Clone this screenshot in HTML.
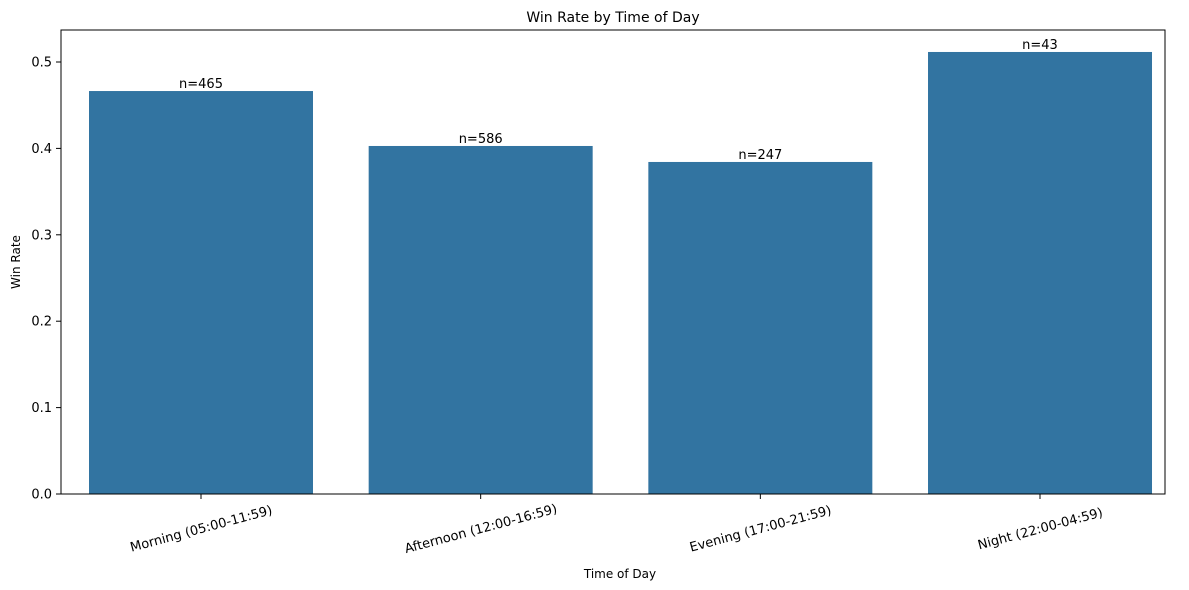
<!DOCTYPE html>
<html><head><meta charset="utf-8"><style>body{margin:0;background:#fff}svg{display:block}text{font-family:"DejaVu Sans","Liberation Sans",sans-serif;fill:#000}</style></head>
<body>
<svg id="chart" width="1189" height="590" viewBox="0 0 1189 590">
<text x="613" y="22" font-size="14" text-anchor="middle">Win Rate by Time of Day</text>
<text x="0" y="0" font-size="12" text-anchor="middle" transform="translate(20,262) rotate(-90)">Win Rate</text>
<text x="620" y="578" font-size="12" text-anchor="middle">Time of Day</text>
<g id="bars"></g><g id="yticks"></g><g id="xticks"></g>
<rect x="61" y="30" width="1104" height="464" fill="none" stroke="#000" stroke-width="1"/>
</svg>
<script>
const categories=["Morning (05:00-11:59)","Afternoon (12:00-16:59)","Evening (17:00-21:59)","Night (22:00-04:59)"];
const winRates=[0.4664,0.4028,0.3843,0.5116];
const counts=[465,586,247,43];
const yTicks=[0,0.1,0.2,0.3,0.4,0.5];
const yTickLabels=["0.0","0.1","0.2","0.3","0.4","0.5"];
const NS="http://www.w3.org/2000/svg";
function y(v){return 494-v*864;}
function x(i){return 201+i*279.67;}
const bw=224;
function mk(t,a,p){const e=document.createElementNS(NS,t);for(const k in a)e.setAttribute(k,a[k]);p.appendChild(e);return e;}
const gb=document.getElementById('bars'),gy=document.getElementById('yticks'),gx=document.getElementById('xticks');
categories.forEach((c,i)=>{
 const r=mk('rect',{x:x(i)-bw/2,y:y(winRates[i]),width:bw,height:494-y(winRates[i]),fill:'#3274a1'},gb);
 
 
 const t=mk('text',{x:x(i),y:y(winRates[i])-3,'font-size':13,'text-anchor':'middle'},gb);
 t.textContent='n='+counts[i];
 
 
 const tk=mk('line',{x1:x(i),x2:x(i),y1:494,y2:499,stroke:'#000'},gx);
 
 
 const l=mk('text',{x:x(i),y:533,'font-size':13,'text-anchor':'middle',transform:'rotate(-15 '+x(i)+' 528)'},gx);
 l.textContent=c;
 
 
});
yTicks.forEach((v,i)=>{
 const tk=mk('line',{x1:56,x2:61,y1:y(v),y2:y(v),stroke:'#000'},gy);
 
 
 const l=mk('text',{x:52,y:y(v)+4.5,'font-size':13,'text-anchor':'end'},gy);
 l.textContent=yTickLabels[i];
 
 
});
</script>
</body></html>
